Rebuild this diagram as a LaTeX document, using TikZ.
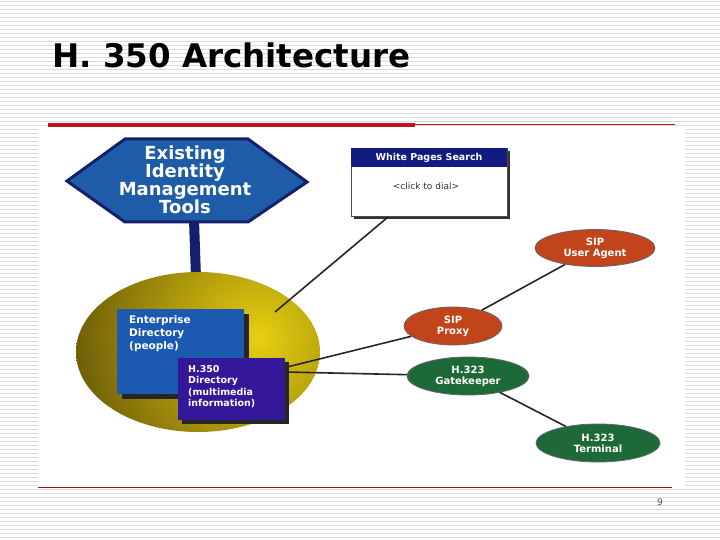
\documentclass[tikz,border=0pt]{standalone}
\usepackage{fontspec}
\setmainfont{DejaVu Sans}
\usetikzlibrary{shapes.geometric}
\definecolor{hexblue}{HTML}{1E5CA8}
\definecolor{navy}{HTML}{14206A}
\definecolor{entblue}{HTML}{1C5AB2}
\definecolor{purp}{HTML}{35189A}
\definecolor{sipred}{HTML}{C2441A}
\definecolor{hgreen}{HTML}{1D6A38}
\definecolor{slred}{HTML}{C0141C}
\definecolor{gold}{HTML}{E8D010}
\definecolor{olive}{HTML}{6A5A08}
\tikzset{
  oval/.style={ellipse, draw=black!60, line width=0.8pt, text=white, font=\fontsize{10}{11}\selectfont\bfseries, align=center, inner sep=0pt},
  conn/.style={line width=1.6pt, black!85},
  boxtxt/.style={text=white, font=\fontsize{10.5}{13}\selectfont\bfseries, align=left, anchor=north west, inner sep=0pt}
}
\begin{document}
\begin{tikzpicture}[x=1pt,y=-1pt]
\useasboundingbox (0,0) rectangle (720,540);
\fill[white] (0,0) rectangle (720,540);
\foreach \i in {0,...,135} {\draw[black!14, line width=0.7pt] (0,\i*4+1) -- (720,\i*4+1);}
\fill[white] (38,127) rectangle (686,489);
\node[anchor=base west, font=\fontsize{32.5}{36}\selectfont\bfseries, inner sep=0] (title) at (52,68) {H. 350 Architecture};
\draw[slred, line width=4pt] (48,125) -- (415,125);
\draw[slred, line width=0.8pt] (415,124) -- (675,124);
\draw[slred!80!black, line width=1pt] (38,487) -- (672,487);
\node[font=\fontsize{9}{10}\selectfont, text=black!70] (pg) at (660,502) {9};
% stem
\fill[navy] (189,220) -- (199,220) -- (201,278) -- (191,278) -- cycle;
% sphere
\begin{scope}
\clip (198,352) ellipse [x radius=122, y radius=80];
\shade[inner color=gold, outer color=olive] (258,338) circle [radius=190];
\end{scope}
\coordinate (sph) at (275,312);
% hexagon
\draw[navy, line width=3pt, fill=hexblue] (67,181) -- (125,139) -- (248,139) -- (307,182) -- (248,222) -- (125,222) -- cycle;
\node[text=white, font=\fontsize{18}{18}\selectfont\bfseries, align=center] (hex) at (185,180) {Existing\\Identity\\Management\\Tools};
% enterprise
\fill[black!85] (122,314) rectangle (249,399);
\fill[entblue] (117,309) rectangle (244,394);
\node[boxtxt] (ent) at (129,315) {Enterprise\\Directory\\(people)};
\fill[black!85] (182,362) rectangle (289,424);
\fill[purp] (178,358) rectangle (285,420);
\node[boxtxt, font=\fontsize{9.5}{11.5}\selectfont\bfseries] (h350) at (188,365) {H.350\\Directory\\(multimedia\\information)};
\coordinate (hA) at (283,368);
\coordinate (hB) at (285,372);
% white pages
\fill[black!80] (354,151) rectangle (510,219);
\draw[black!70, fill=white, line width=0.6pt] (351,148) rectangle (507,216);
\fill[navy!85!blue] (351,148) rectangle (507,167);
\node[text=white, font=\fontsize{9.5}{10}\selectfont\bfseries] (wph) at (429,158) {White Pages Search};
\node[font=\fontsize{9}{10}\selectfont, text=black!80] (wp) at (426,186) {<click to dial>};
\coordinate (wpb) at (388,217);
% ovals
\node[oval, fill=sipred, minimum width=120pt, minimum height=37pt] (ua) at (595,248) {SIP\\User Agent};
\node[oval, fill=sipred, minimum width=98pt, minimum height=38pt] (proxy) at (453,326) {SIP\\Proxy};
\node[oval, fill=hgreen, minimum width=122pt, minimum height=38pt] (gk) at (468,376) {H.323\\Gatekeeper};
\node[oval, fill=hgreen, minimum width=124pt, minimum height=38pt] (term) at (598,443) {H.323\\Terminal};
% connectors
\draw[conn] (wpb) -- (sph);
\draw[conn] (ua) -- (proxy);
\draw[conn] (proxy) -- (hA);
\draw[conn] (gk) -- (hB);
\draw[conn] (gk) -- (term);
\end{tikzpicture}
\end{document}
